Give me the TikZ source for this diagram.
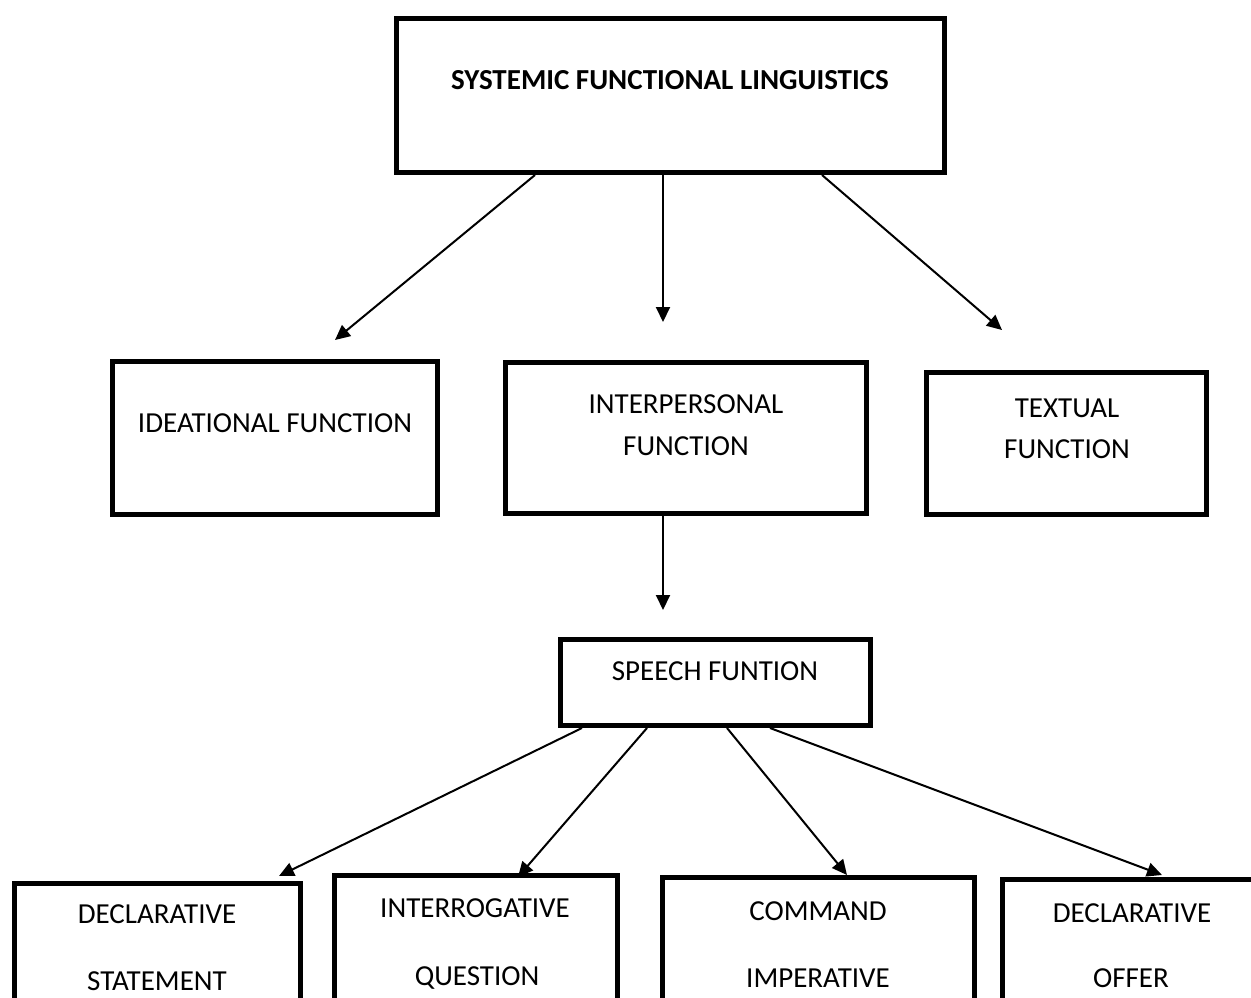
\documentclass[tikz,border=0pt]{standalone}
\usepackage{fontspec}
\setmainfont{Carlito}
\usetikzlibrary{arrows.meta}
\begin{document}
\begin{tikzpicture}[x=1pt,y=-1pt,
  box/.style={draw=black,line width=5pt,rectangle,inner sep=0pt,fill=white},
  lbl/.style={anchor=base,inner sep=0pt,font=\fontsize{29}{34}\selectfont},
  arr/.style={line width=2pt,-{Triangle[length=15pt,width=14pt]}}]
\path[use as bounding box,clip] (0,0) rectangle (1251,998);
\fill[white] (0,0) rectangle (1251,998);
% boxes
\node[box,minimum width=548pt,minimum height=154pt] (top) at (670.5,95.5) {};
\node[box,minimum width=325pt,minimum height=153pt] (ide) at (275,438) {};
\node[box,minimum width=361pt,minimum height=151pt] (int) at (686,438) {};
\node[box,minimum width=280pt,minimum height=142pt] (tex) at (1066.5,443.5) {};
\node[box,minimum width=310pt,minimum height=86pt] (spe) at (715.5,682.5) {};
\node[box,minimum width=286pt,minimum height=160pt] (dst) at (157.5,963) {};
\node[box,minimum width=283pt,minimum height=160pt] (iqu) at (476,955.5) {};
\node[box,minimum width=312pt,minimum height=160pt] (cim) at (818.5,957.5) {};
\node[box,minimum width=262pt,minimum height=160pt] (dof) at (1133.5,959.5) {};
% texts
\node[lbl,font=\fontsize{29}{34}\selectfont\bfseries] (ttop) at (670,90) {SYSTEMIC FUNCTIONAL LINGUISTICS};
\node[lbl] (tide) at (275,432) {IDEATIONAL FUNCTION};
\node[lbl] (tint1) at (686,413) {INTERPERSONAL};
\node[lbl] (tint2) at (686,455) {FUNCTION};
\node[lbl] (ttex1) at (1067,417) {TEXTUAL};
\node[lbl] (ttex2) at (1067,458) {FUNCTION};
\node[lbl] (tspe) at (715,680) {SPEECH FUNTION};
\node[lbl] (tdst1) at (157,923) {DECLARATIVE};
\node[lbl] (tdst2) at (157,990) {STATEMENT};
\node[lbl] (tiqu1) at (475,917) {INTERROGATIVE};
\node[lbl] (tiqu2) at (477,985) {QUESTION};
\node[lbl] (tcim1) at (818,920) {COMMAND};
\node[lbl] (tcim2) at (818,987) {IMPERATIVE};
\node[lbl] (tdof1) at (1132,922) {DECLARATIVE};
\node[lbl] (tdof2) at (1131,987) {OFFER};
% arrow tips
\coordinate (a1) at (335,340);
\coordinate (a2) at (663,322);
\coordinate (a3) at (1002,330);
\coordinate (a4) at (663,610);
\coordinate (a5) at (279,876);
\coordinate (a6) at (518,877);
\coordinate (a7) at (847,875);
\coordinate (a8) at (1162,875);
% connectors
\draw[arr] (top.south -| 535,0) -- (a1);
\draw[arr] (top.south -| a2) -- (a2);
\draw[arr] (top.south -| 822,0) -- (a3);
\draw[arr] (int.south -| a4) -- (a4);
\draw[arr] (spe.south -| 582,0) -- (a5);
\draw[arr] (spe.south -| 647,0) -- (a6);
\draw[arr] (spe.south -| 727,0) -- (a7);
\draw[arr] (spe.south -| 770,0) -- (a8);
\end{tikzpicture}
\end{document}
